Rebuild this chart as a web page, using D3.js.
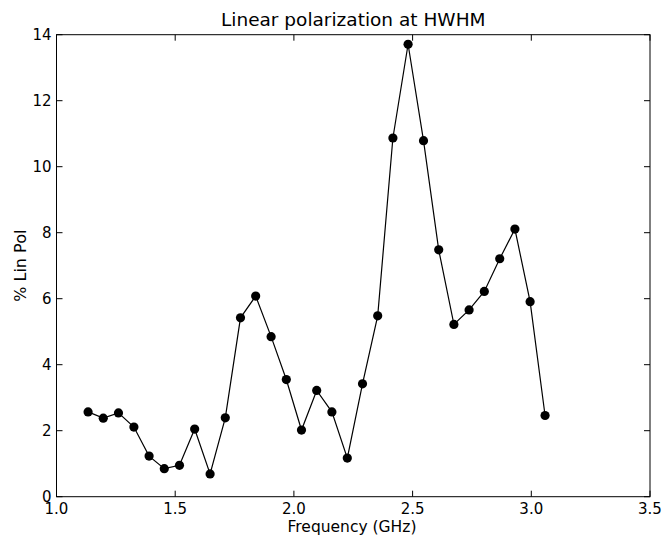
<!DOCTYPE html>
<html><head><meta charset="utf-8">
<script src="https://cdn.jsdelivr.net/npm/d3@7"></script>
<style>body{margin:0;background:#fff;} svg{display:block;font-family:"DejaVu Sans",sans-serif;}</style>
</head><body>
<svg id="c" width="663" height="539"></svg>
<script>
const freqs = [1.133,1.197,1.261,1.326,1.390,1.454,1.518,1.582,1.647,1.711,1.775,1.839,1.904,1.968,2.032,2.096,2.160,2.225,2.289,2.353,2.417,2.481,2.546,2.610,2.674,2.738,2.802,2.867,2.931,2.995,3.058];
const linPol = [2.57,2.38,2.54,2.11,1.23,0.85,0.95,2.05,0.69,2.39,5.42,6.08,4.85,3.55,2.02,3.22,2.57,1.17,3.42,5.48,10.87,13.71,10.79,7.48,5.22,5.66,6.22,7.21,8.11,5.91,2.46];
const xTicks = [1.0,1.5,2.0,2.5,3.0,3.5];
const yTicks = [0,2,4,6,8,10,12,14];

const svg = d3.select("#c");
const L=56.5, R=650, T=34.7, B=496.7;
const x = d3.scaleLinear().domain([1.0,3.5]).range([L,R]);
const y = d3.scaleLinear().domain([0,14]).range([B,T]);

const g = svg.append("g");
const tl = 6;
xTicks.forEach(v=>{
  g.append("line").attr("x1",x(v)).attr("x2",x(v)).attr("y1",B).attr("y2",B-tl).attr("stroke","#000");
  g.append("line").attr("x1",x(v)).attr("x2",x(v)).attr("y1",T).attr("y2",T+tl).attr("stroke","#000");
  g.append("text").attr("x",x(v)).attr("y",B+17).attr("text-anchor","middle").attr("font-size",15).text(d3.format(".1f")(v));
});
yTicks.forEach(v=>{
  g.append("line").attr("x1",L).attr("x2",L+tl).attr("y1",y(v)).attr("y2",y(v)).attr("stroke","#000");
  g.append("line").attr("x1",R).attr("x2",R-tl).attr("y1",y(v)).attr("y2",y(v)).attr("stroke","#000");
  g.append("text").attr("x",L-5).attr("y",y(v)+5.5).attr("text-anchor","end").attr("font-size",15).text(v);
});
g.append("rect").attr("x",L).attr("y",T).attr("width",R-L).attr("height",B-T).attr("fill","none").attr("stroke","#000").attr("stroke-width",1);

const data = freqs.map((f,i)=>({f, v:linPol[i]}));
g.append("path").datum(data).attr("fill","none").attr("stroke","#000").attr("stroke-width",1.2)
  .attr("d", d3.line().x(d=>x(d.f)).y(d=>y(d.v)));
g.selectAll("circle.pt").data(data).enter().append("circle").attr("class","pt")
  .attr("cx",d=>x(d.f)).attr("cy",d=>y(d.v)).attr("r",4.6).attr("fill","#000");

svg.append("text").attr("x",(L+R)/2).attr("y",26).attr("text-anchor","middle").attr("font-size",18.5).text("Linear polarization at HWHM");
svg.append("text").attr("x",352).attr("y",532).attr("text-anchor","middle").attr("font-size",15.5).text("Frequency (GHz)");
svg.append("text").attr("transform",`translate(26,${(T+B)/2}) rotate(-90)`).attr("text-anchor","middle").attr("font-size",16).text("% Lin Pol");
</script>
</body></html>
